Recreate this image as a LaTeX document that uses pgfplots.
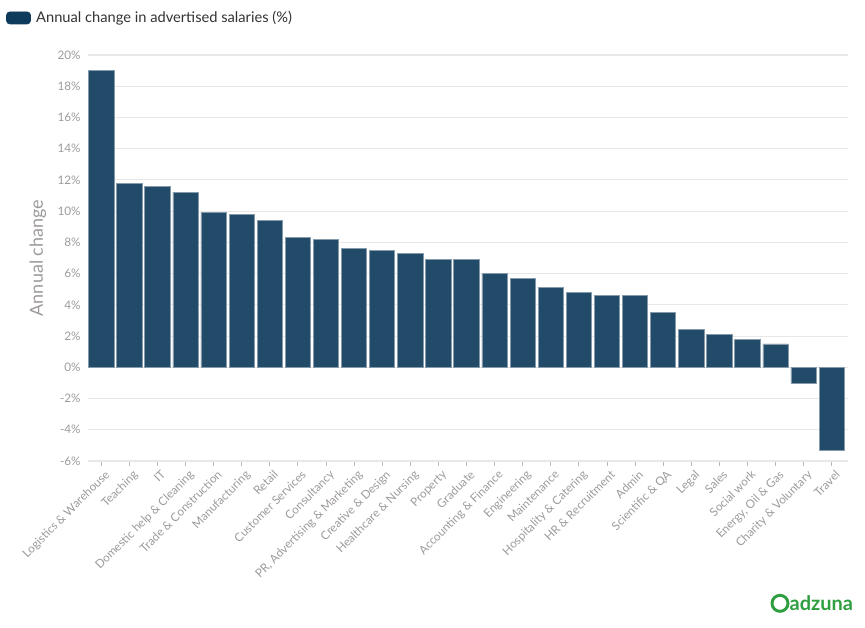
\documentclass[border=0pt]{standalone}
\usepackage{pgfplots}
\pgfplotsset{compat=1.18}
\usepackage{fontspec}
\setmainfont{Lato}
\definecolor{barc}{HTML}{224A69}
\definecolor{legc}{HTML}{0E3A5C}
\definecolor{gridc}{HTML}{E8E8E8}
\definecolor{tickc}{HTML}{9E9A9A}
\definecolor{adz}{HTML}{2E9E3E}
\begin{document}
\begin{tikzpicture}
\path[use as bounding box] (0,0) rectangle (648.75pt,471pt);
\begin{axis}[
  at={(66pt,125.25pt)}, anchor=south west,
  scale only axis, width=570pt, height=304.5pt,
  xmin=-0.47, xmax=26.58, ymin=-6, ymax=20,
  ytick={-6,-4,...,20},
  yticklabel={\pgfmathprintnumber{\tick}\%},
  ymajorgrids, grid style={gridc, line width=0.8pt},
  axis y line*=left, y axis line style={draw=none},
  axis x line*=bottom, x axis line style={gridc, line width=0.8pt},
  xtick=data,
  xticklabels={Logistics \& Warehouse, Teaching, IT, Domestic help \& Cleaning, Trade \& Construction, Manufacturing, Retail, Customer Services, Consultancy, {PR, Advertising \& Marketing}, Creative \& Design, Healthcare \& Nursing, Property, Graduate, Accounting \& Finance, Engineering, Maintenance, Hospitality \& Catering, HR \& Recruitment, Admin, Scientific \& QA, Legal, Sales, Social work, {Energy, Oil \& Gas}, Charity \& Voluntary, Travel},
  x tick label style={rotate=45, anchor=north east, font=\fontsize{8.8pt}{10pt}\selectfont, text=tickc, inner sep=1pt, xshift=1pt, yshift=-2pt},
  y tick label style={font=\fontsize{8.8pt}{10pt}\selectfont, text=tickc, xshift=2pt},
  /pgf/number format/assume math mode=true,
  major tick length=4pt,
  xtick style={draw=gridc!80!black, line width=0.6pt},
  ytick style={draw=none},
  tick align=outside,
  ylabel={Annual change},
  ylabel style={at={(axis description cs:-0.066,0.5)}, anchor=center, font=\fontsize{13.5pt}{15pt}\selectfont, text=tickc},
  legend style={at={(axis description cs:-0.108,1.115)}, anchor=north west, draw=none, fill=none, font=\fontsize{11pt}{13pt}\selectfont, text=black!80, inner sep=0pt, column sep=2pt},
  legend cell align=left,
]
\addplot[ybar, bar width=0.9, fill=barc, draw=barc!55!white, line width=0.5pt,
  legend image code/.code={\fill[legc, rounded corners=2.5pt] (0pt,-4.5pt) rectangle (18pt,4.5pt);}]
  table[x=i, y=v] {
i v
0 19.0
1 11.8
2 11.6
3 11.2
4 9.9
5 9.8
6 9.4
7 8.3
8 8.2
9 7.6
10 7.5
11 7.3
12 6.9
13 6.9
14 6.0
15 5.7
16 5.1
17 4.8
18 4.6
19 4.6
20 3.5
21 2.4
22 2.1
23 1.8
24 1.5
25 -1.0
26 -5.3
};
\addlegendentry{Annual change in advertised salaries (\%)}
\end{axis}
\draw[adz, line width=2.2pt] (585pt,18.5pt) circle (6pt);
\node[anchor=west, text=adz, font=\fontsize{15pt}{17pt}\selectfont\bfseries, inner sep=0pt] at (592pt,18.5pt) {adzuna};
\end{tikzpicture}
\end{document}
